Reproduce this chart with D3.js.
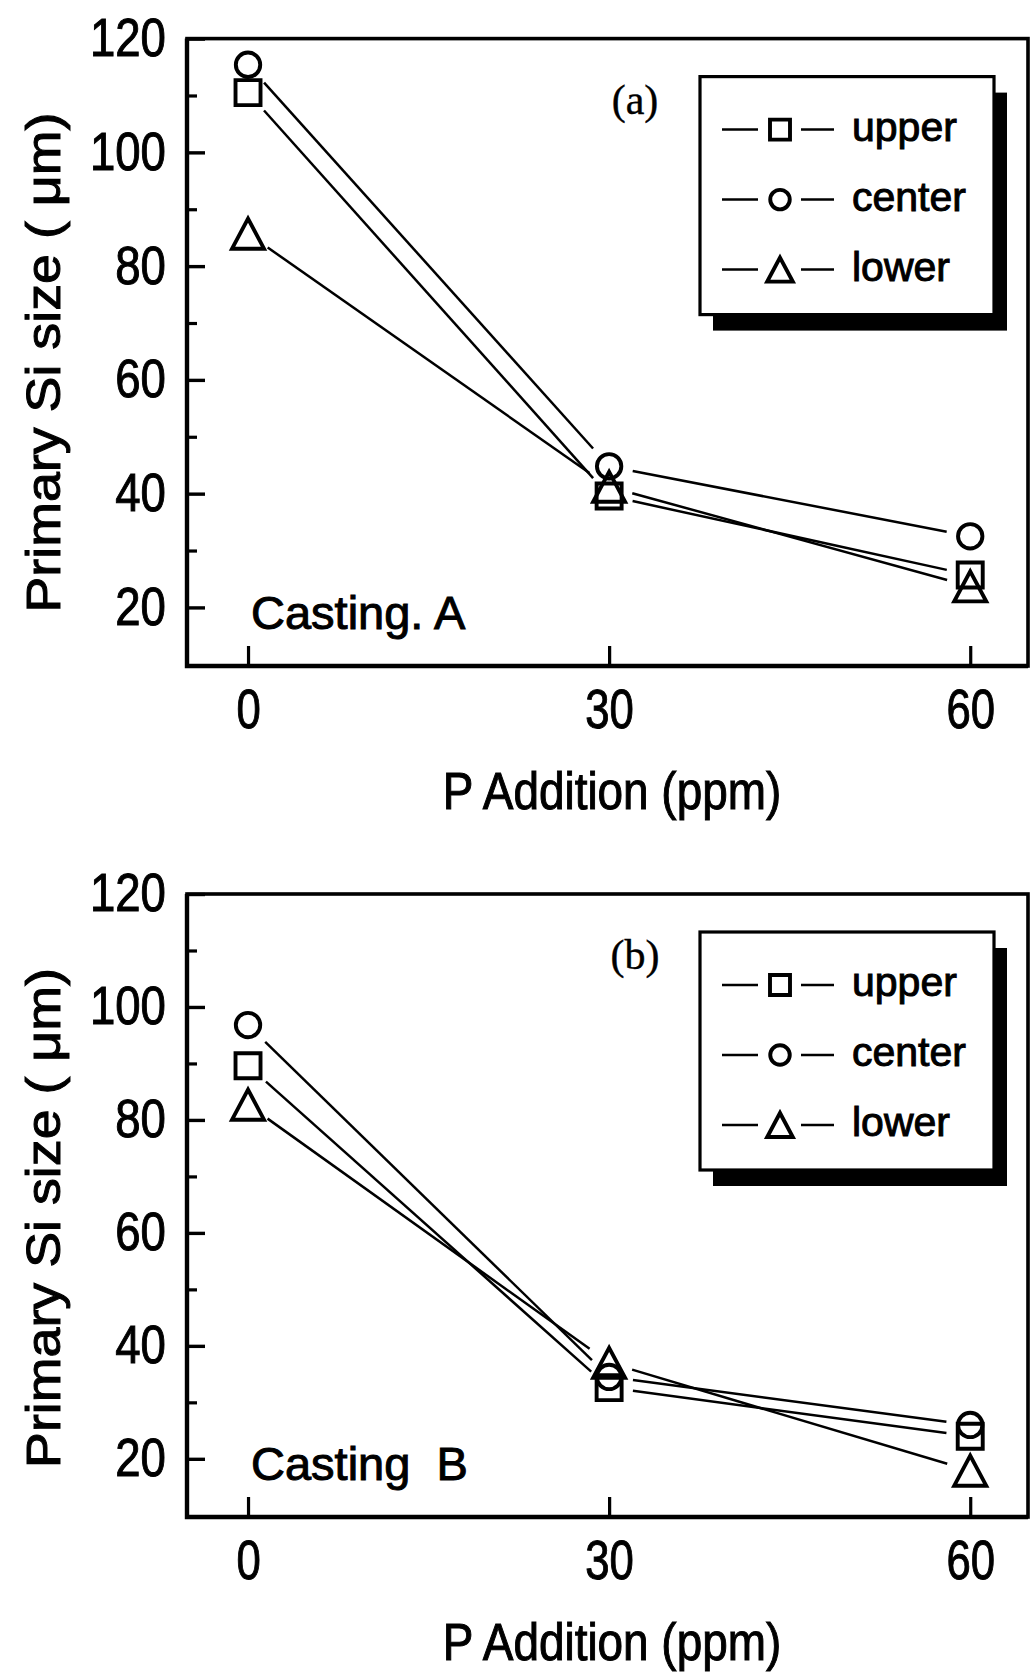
<!DOCTYPE html>
<html>
<head>
<meta charset="utf-8">
<script src="https://cdn.jsdelivr.net/npm/d3@7"></script>
<style>
  body { margin: 0; background: #fff; }
  text { font-family: "Liberation Sans", Arial, sans-serif; fill: #000; }
</style>
</head>
<body>
<div id="chart"></div>
<script>
// values
var xValues = [0, 30, 60];
var seriesNames = ["upper", "center", "lower"];
var seriesSymbols = ["square", "circle", "triangle"];

var upperA = [110.5, 39.6, 25.7];
var centerA = [115.4, 44.8, 32.5];
var lowerA = [85.7, 41.2, 23.7];

var upperB = [89.6, 32.6, 24.0];
var centerB = [96.8, 34.5, 26.0];
var lowerB = [82.7, 37.0, 17.9];

var yTicks = [20, 40, 60, 80, 100, 120];
var yMinorTicks = [30, 50, 70, 90, 110];
var xTicks = [0, 30, 60];

var panels = [
    { top: 38.6, bottom: 666, series: [upperA, centerA, lowerA], tag: "(a)", casting: "Casting. A" },
    { top: 894, bottom: 1517, series: [upperB, centerB, lowerB], tag: "(b)", casting: "Casting  B" }
];

var width = 1034, height = 1675;
var left = 187, right = 1028;
var heavy = 1.0; // scanned text looks heavier than plain Liberation Sans

var svg = d3.select("#chart").append("svg")
    .attr("width", width)
    .attr("height", height);

var x = d3.scaleLinear().domain([-5.07, 64.8]).range([left, right]);

// marker outline path centred on 0,0
function symbolPath(type, big) {
    var k = big ? 1 : 0.8;
    if (type === "square") {
        var s = 12.5 * k;
        return "M" + (-s) + "," + (-s) + "H" + s + "V" + s + "H" + (-s) + "Z";
    }
    if (type === "circle") {
        var r = 12.2 * k;
        return "M" + r + ",0A" + r + "," + r + " 0 1,1 " + (-r) + ",0A" + r + "," + r + " 0 1,1 " + r + ",0Z";
    }
    var w = 16 * k, h = 15 * k;
    return "M0," + (-h) + "L" + w + "," + h + "L" + (-w) + "," + h + "Z";
}

panels.forEach(function(p) {
    var y = d3.scaleLinear().domain([9.7, 120]).range([p.bottom, p.top]);
    var g = svg.append("g");

    // y axis, major ticks inward
    var yAxis = g.append("g")
        .attr("transform", "translate(" + left + ",0)")
        .call(d3.axisLeft(y).tickValues(yTicks).tickSize(-18).tickSizeOuter(0).tickPadding(24.5));
    yAxis.select(".domain").remove();
    yAxis.selectAll("line").attr("stroke", "#000").attr("stroke-width", 3.4);
    yAxis.selectAll("text")
        .attr("transform", "scale(0.86,1)")
        .style("font-size", "53px")
        .attr("stroke", "#000").attr("stroke-width", heavy);

    var yMinor = g.append("g")
        .attr("transform", "translate(" + left + ",0)")
        .call(d3.axisLeft(y).tickValues(yMinorTicks).tickSize(-10).tickSizeOuter(0).tickFormat(""));
    yMinor.select(".domain").remove();
    yMinor.selectAll("line").attr("stroke", "#000").attr("stroke-width", 3.2);

    // x axis
    var xAxis = g.append("g")
        .attr("transform", "translate(0," + p.bottom + ")")
        .call(d3.axisBottom(x).tickValues(xTicks).tickSize(-20).tickSizeOuter(0).tickPadding(22));
    xAxis.select(".domain").remove();
    xAxis.selectAll("line").attr("stroke", "#000").attr("stroke-width", 3.2);
    xAxis.selectAll("text")
        .attr("transform", "scale(0.78,1)")
        .style("font-size", "56px")
        .attr("stroke", "#000").attr("stroke-width", heavy);

    // frame
    g.append("rect")
        .attr("x", left).attr("y", p.top)
        .attr("width", right - left).attr("height", p.bottom - p.top)
        .attr("fill", "none").attr("stroke", "#000").attr("stroke-width", 3.6);
    g.append("path")
        .attr("d", "M" + left + "," + p.top + "V" + p.bottom + "H" + right)
        .attr("fill", "none").attr("stroke", "#000").attr("stroke-width", 4.4);

    // series lines, trimmed short of the markers
    var gap = 24;
    p.series.forEach(function(vals, si) {
        for (var i = 0; i < vals.length - 1; i++) {
            var x0 = x(xValues[i]), y0 = y(vals[i]);
            var x1 = x(xValues[i + 1]), y1 = y(vals[i + 1]);
            var len = Math.sqrt((x1 - x0) * (x1 - x0) + (y1 - y0) * (y1 - y0));
            var ux = (x1 - x0) / len, uy = (y1 - y0) / len;
            g.append("line")
                .attr("x1", x0 + ux * gap).attr("y1", y0 + uy * gap)
                .attr("x2", x1 - ux * gap).attr("y2", y1 - uy * gap)
                .attr("stroke", "#000").attr("stroke-width", 2.5);
        }
        g.selectAll(".pt" + si)
            .data(vals)
            .enter().append("path")
            .attr("d", symbolPath(seriesSymbols[si], true))
            .attr("transform", function(d, i) {
                return "translate(" + x(xValues[i]) + "," + y(d) + ")";
            })
            .attr("fill", "none").attr("stroke", "#000").attr("stroke-width", 3.9);
    });

    // y label
    g.append("text")
        .attr("transform", "translate(60," + (p.top + 324) + ") rotate(-90)")
        .attr("text-anchor", "middle")
        .attr("textLength", 500)
        .attr("lengthAdjust", "spacingAndGlyphs")
        .style("font-size", "49px")
        .attr("stroke", "#000").attr("stroke-width", heavy)
        .text("Primary Si size ( \u03bcm)");

    // x label
    g.append("text")
        .attr("transform", "translate(612," + (p.bottom + 143) + ") scale(0.9,1)")
        .attr("text-anchor", "middle")
        .style("font-size", "51px")
        .attr("stroke", "#000").attr("stroke-width", heavy)
        .text("P Addition (ppm)");

    // panel tag and casting label
    g.append("text")
        .attr("x", 635).attr("y", p.top + 75)
        .attr("text-anchor", "middle")
        .style("font-family", "'Liberation Serif', 'Times New Roman', serif")
        .style("font-size", "42px")
        .attr("stroke", "#000").attr("stroke-width", 0.4)
        .text(p.tag);

    g.append("text")
        .attr("x", 251).attr("y", p.bottom - 37.5)
        .style("font-size", "47px")
        .style("white-space", "pre")
        .attr("xml:space", "preserve")
        .attr("stroke", "#000").attr("stroke-width", heavy)
        .text(p.casting);

    // legend with drop shadow
    var lx = 700, ly = p.top + 38, lw = 294, lh = 238;
    g.append("rect")
        .attr("x", lx + 13).attr("y", ly + 16)
        .attr("width", lw).attr("height", lh)
        .attr("fill", "#000");
    g.append("rect")
        .attr("x", lx).attr("y", ly)
        .attr("width", lw).attr("height", lh)
        .attr("fill", "#fff").attr("stroke", "#000").attr("stroke-width", 3.2);

    seriesNames.forEach(function(name, si) {
        var base = ly + 64 + si * 70;
        var cy = base - 11;
        g.append("line").attr("x1", 722).attr("x2", 758).attr("y1", cy).attr("y2", cy)
            .attr("stroke", "#000").attr("stroke-width", 2.5);
        g.append("line").attr("x1", 801).attr("x2", 834).attr("y1", cy).attr("y2", cy)
            .attr("stroke", "#000").attr("stroke-width", 2.5);
        g.append("path")
            .attr("d", symbolPath(seriesSymbols[si], false))
            .attr("transform", "translate(780," + cy + ")")
            .attr("fill", "none").attr("stroke", "#000").attr("stroke-width", 3.9);
        g.append("text")
            .attr("x", 852).attr("y", base)
            .style("font-size", "41px")
            .attr("stroke", "#000").attr("stroke-width", heavy)
            .text(name);
    });
});
</script>
</body>
</html>
